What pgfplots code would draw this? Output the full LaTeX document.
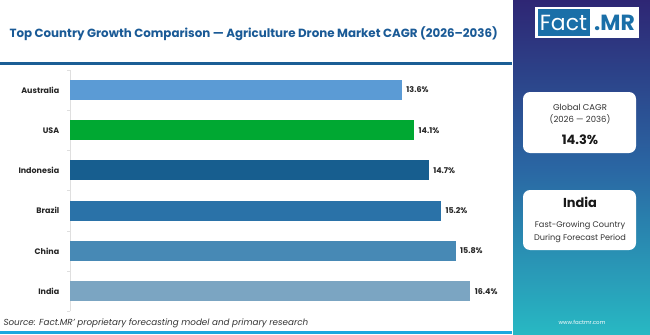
\documentclass[border=0pt]{standalone}
\usepackage{fontspec}
\setmainfont{Poppins}
\usepackage{pgfplots}
\pgfplotsset{compat=1.18}

\definecolor{titleblue}{HTML}{1A5A96}
\definecolor{topline}{HTML}{1B5E95}
\definecolor{botline}{HTML}{1BA8DF}
\definecolor{cAus}{HTML}{5B9BD5}
\definecolor{cUSA}{HTML}{00A832}
\definecolor{cIdn}{HTML}{175E8F}
\definecolor{cBra}{HTML}{2A72A8}
\definecolor{cChn}{HTML}{4789B5}
\definecolor{cInd}{HTML}{7BA5C2}
\definecolor{panelTop}{HTML}{2E2674}
\definecolor{panelMid}{HTML}{2A66A3}
\definecolor{panelBot}{HTML}{28B8C3}
\definecolor{logoblue}{HTML}{1A6FA8}

\begin{document}
\begin{tikzpicture}[x=1bp,y=1bp]
\useasboundingbox (0,0) rectangle (650,334);
\fill[white] (0,0) rectangle (650,334);

% title
\node[anchor=west, text=titleblue, font=\bfseries\fontsize{11.9}{13}\selectfont]
  at (6,300) {Top Country Growth Comparison — Agriculture Drone Market CAGR (2026–2036)};

% rules above and below the chart area
\fill[topline] (0,269) rectangle (512,272);
\fill[botline] (0,0) rectangle (512,3.5);

\begin{axis}[
  at={(70bp,22.6bp)}, anchor=south west,
  scale only axis, width=442bp, height=241.6bp,
  xbar, bar width=20bp, bar shift=0pt,
  xmin=0, xmax=18.11, ymin=-0.5, ymax=5.5,
  axis lines*=left,
  x axis line style={draw=none}, xtick=\empty,
  y axis line style={draw=gray!25, line width=0.6pt},
  ytick={0,...,5},
  yticklabels={India,China,Brazil,Indonesia,USA,Australia},
  ytick style={draw=none},
  minor ytick={-0.5,0.5,...,5.5},
  minor tick length=3bp,
  minor y tick style={draw=gray!25, line width=0.5pt},
  tick align=outside,
  yticklabel style={font=\bfseries\fontsize{8}{9}\selectfont, text=black!85, xshift=-3bp},
  nodes near coords={\pgfmathprintnumber[fixed,precision=1,fixed zerofill]{\pgfplotspointmeta}\%},
  nodes near coords style={font=\bfseries\fontsize{8}{9}\selectfont, text=black!85, anchor=west, xshift=1bp},
  /pgf/number format/assume math mode=true,
  every axis plot/.append style={draw=none},
  clip=false,
]
\addplot[fill=cInd] coordinates {(16.4,0)};
\addplot[fill=cChn] coordinates {(15.8,1)};
\addplot[fill=cBra] coordinates {(15.2,2)};
\addplot[fill=cIdn] coordinates {(14.7,3)};
\addplot[fill=cUSA] coordinates {(14.1,4)};
\addplot[fill=cAus] coordinates {(13.6,5)};
\end{axis}

% source note
\node[anchor=west, font=\itshape\fontsize{8.8}{10}\selectfont, text=black!80]
  at (0,11) {Source: Fact.MR' proprietary forecasting model and primary research};

% side panel
\shade[top color=panelTop, bottom color=panelBot, middle color=panelMid] (513,0) rectangle (650,334);
\fill[white] (535,296) rectangle (639,327);
\fill[logoblue] (537.5,298.5) rectangle (589.5,324.5);
\node[text=white, font=\fontsize{22}{24}\selectfont] at (563.5,311) {Fact};
\node[text=logoblue, font=\bfseries\fontsize{22}{24}\selectfont] at (614.5,311) {.MR};

% summary cards
\fill[white, rounded corners=7bp] (523,181) rectangle (636,242);
\node[font=\fontsize{8.5}{9}\selectfont, text=black!80] at (580,227) {Global CAGR};
\node[font=\fontsize{8.5}{9}\selectfont, text=black!80] at (580,215) {(2026 — 2036)};
\node[font=\bfseries\fontsize{13}{14}\selectfont, text=black!90] at (580,194) {14.3\%};

\fill[white, rounded corners=7bp] (523,84) rectangle (636,144);
\node[font=\bfseries\fontsize{13}{14}\selectfont, text=black!90] at (580,132) {India};
\node[font=\fontsize{8.2}{9}\selectfont, text=black!80] at (580,109) {Fast-Growing Country};
\node[font=\fontsize{8.2}{9}\selectfont, text=black!80] at (580,96) {During Forecast Period};

\node[font=\fontsize{5.5}{6}\selectfont, text=white] at (582,12) {www.factmr.com};
\end{tikzpicture}
\end{document}
